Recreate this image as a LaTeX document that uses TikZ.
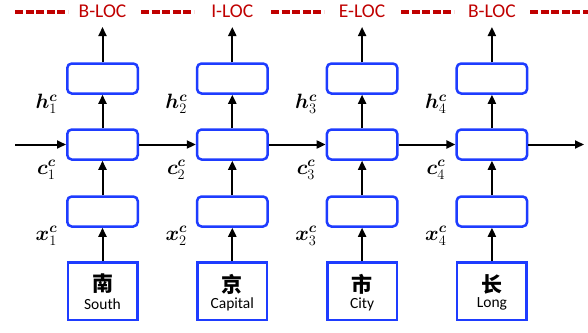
\documentclass[tikz,border=0pt]{standalone}
\usepackage{fontspec}
\usepackage{bm}
\setmainfont{Carlito}
\newfontfamily\cjk{Noto Sans CJK SC}
\usetikzlibrary{arrows.meta}
\definecolor{bboxc}{RGB}{30,60,255}
\definecolor{tagred}{RGB}{192,0,0}
\tikzset{
  cell/.style={draw=bboxc, line width=2.5pt, rounded corners=4.5pt, minimum width=70.5pt, minimum height=30pt, inner sep=0pt, fill=white},
  wordbox/.style={draw=bboxc, line width=2.5pt, minimum width=69.5pt, minimum height=57.5pt, inner sep=0pt, fill=white},
  arr/.style={draw=black, line width=2pt, -{Triangle[length=9pt,width=8pt]}},
  tag/.style={text=tagred, font=\fontsize{19.5}{22}\selectfont, inner sep=0pt},
  dashline/.style={draw=tagred, line width=3.4pt, dash pattern=on 8pt off 2.6pt},
  lbl/.style={font=\fontsize{20}{24}\selectfont, inner sep=0pt},
  zh/.style={font=\fontsize{21}{24}\selectfont\cjk\bfseries, inner sep=0pt},
  en/.style={font=\fontsize{15.5}{18}\selectfont, inner sep=0pt}
}
\begin{document}
\begin{tikzpicture}[x=1pt,y=-1pt]
\useasboundingbox (0,0) rectangle (588,332);
\fill[white] (0,0) rectangle (588,332);
% columns
\foreach \i/\cx/\tg/\zc/\en in {1/102.5/B-LOC/南/South, 2/232.3/I-LOC/京/Capital, 3/362.1/E-LOC/市/City, 4/491.9/B-LOC/长/Long}{
  \node[cell] (t\i) at (\cx,78.5) {};
  \node[cell] (m\i) at (\cx,144.5) {};
  \node[cell] (b\i) at (\cx,211.5) {};
  \node[wordbox] (w\i) at (\cx,291) {};
  \node[zh] (z\i) at (\cx,284) {\zc};
  \node[en] (e\i) at (\cx,304) {\en};
  \node[tag] (g\i) at (\cx,11) {\tg};
  \coordinate (o\i) at (\cx,27);
  \draw[arr] (t\i.north) -- (o\i);
  \draw[arr] (m\i.north) -- (t\i.south);
  \draw[arr] (b\i.north) -- (m\i.south);
  \draw[arr] (w\i.north) -- (b\i.south);
  \node[lbl] (h\i) at (\cx-56,104) {$\bm{h}_{\i}^{\bm{c}}$};
  \node[lbl] (c\i) at (\cx-56,170) {$\bm{c}_{\i}^{\bm{c}}$};
  \node[lbl] (x\i) at (\cx-56,236) {$\bm{x}_{\i}^{\bm{c}}$};
}
% horizontal arrows
\coordinate (hs) at (15,144.5);
\coordinate (he) at (584,144.5);
\draw[arr] (hs) -- (m1.west);
\draw[arr] (m1.east) -- (m2.west);
\draw[arr] (m2.east) -- (m3.west);
\draw[arr] (m3.east) -- (m4.west);
\draw[arr] (m4.east) -- (he);
% dashed red lines
\coordinate (d0a) at (15,12); \coordinate (d0b) at (68,12);
\coordinate (d1a) at (141,12); \coordinate (d1b) at (194,12);
\coordinate (d2a) at (271,12); \coordinate (d2b) at (324,12);
\coordinate (d3a) at (401,12); \coordinate (d3b) at (454,12);
\coordinate (d4a) at (530,12); \coordinate (d4b) at (588,12);
\draw[dashline] (d0a) -- (d0b);
\draw[dashline] (d1a) -- (d1b);
\draw[dashline] (d2a) -- (d2b);
\draw[dashline] (d3a) -- (d3b);
\draw[dashline] (d4a) -- (d4b);
\end{tikzpicture}
\end{document}
